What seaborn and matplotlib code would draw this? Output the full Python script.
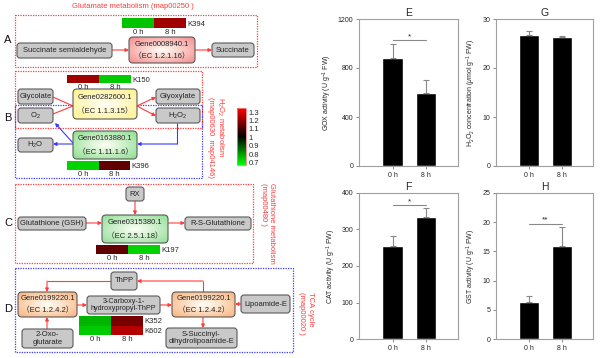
import numpy as np
import pandas as pd
import matplotlib
matplotlib.use("Agg")
import matplotlib.pyplot as plt
import seaborn as sns
from matplotlib.patches import FancyBboxPatch, Rectangle
from matplotlib.colors import LinearSegmentedColormap

sns.set_style("white")
plt.rcParams['font.family'] = ['Liberation Sans', 'Noto Sans CJK SC', 'DejaVu Sans']
plt.rcParams['mathtext.fontset'] = 'custom'
plt.rcParams['mathtext.rm'] = 'Liberation Sans'
plt.rcParams['mathtext.it'] = 'Liberation Sans:italic'

# enzyme activity data (0 h vs 8 h)
times = ['0 h', '8 h']
gox_mean = [882, 596]
gox_err = [114, 106]
h2o2_mean = [26.7, 26.3]
h2o2_err = [0.85, 0.2]
cat_mean = [255, 334]
cat_err = [27, 25]
gst_mean = [6.3, 15.9]
gst_err = [1.1, 3.3]

# relative expression heatmaps
k394 = [[0.75, 1.22]]
k150 = [[1.22, 0.74]]
k396 = [[0.73, 1.14]]
k197 = [[1.14, 0.73]]
k352_k602 = [[0.77, 1.17], [0.74, 1.25]]
cbar_ticks = [0.7, 0.8, 0.9, 1, 1.1, 1.2, 1.3]

W, H = 600, 358
fig = plt.figure(figsize=(6, 3.58), dpi=100)
ax = fig.add_axes([0, 0, 1, 1])
ax.axis('off')

RED = '#ff3b3b'
BLUE = '#3a3aff'
FS = 5.5


def px_axes(x0, y0, x1, y1):
    return fig.add_axes([x0 / W, 1 - y1 / H, (x1 - x0) / W, (y1 - y0) / H])


def gray_box(x0, y0, x1, y1, text, fs=FS):
    p = FancyBboxPatch((x0, y0), x1 - x0, y1 - y0,
                       boxstyle='round,pad=0,rounding_size=3',
                       fc='#c9c9c9', ec='#5a5a5a', lw=0.8, zorder=3)
    ax.add_patch(p)
    ax.text((x0 + x1) / 2, (y0 + y1) / 2, text, ha='center', va='center',
            fontsize=fs, color='#222222', zorder=4, linespacing=1.05)


def gene_box(x0, y0, x1, y1, name, ec_name, edge):
    p = FancyBboxPatch((x0, y0), x1 - x0, y1 - y0,
                       boxstyle='round,pad=0,rounding_size=4',
                       fc='none', ec='#5a5a5a', lw=0.8, zorder=4)
    ax.add_patch(p)
    X, Y = np.meshgrid(np.linspace(-1, 1, 80), np.linspace(-1, 1, 40))
    r = np.clip(np.sqrt(X ** 2 + Y ** 2) / 1.3, 0, 1)
    img = (1 - r)[..., None] * np.array([1.0, 1.0, 0.97]) + r[..., None] * np.array(edge)
    im = ax.imshow(img, extent=(x0, x1, y1, y0), aspect='auto',
                   interpolation='bilinear', zorder=3)
    im.set_clip_path(p)
    cy = (y0 + y1) / 2
    h = y1 - y0
    ax.text((x0 + x1) / 2, cy - h * 0.22, name, ha='center', va='center',
            fontsize=FS, color='#222222', zorder=5)
    ax.text((x0 + x1) / 2, cy + h * 0.26, '（' + ec_name + '）', ha='center',
            va='center', fontsize=FS, color='#222222', zorder=5)


def path_arrow(pts, color):
    pts = list(pts)
    if len(pts) > 2:
        xs, ys = zip(*pts[:-1])
        ax.plot(xs, ys, color=color, lw=0.8, zorder=2, solid_capstyle='butt')
    ax.annotate('', xy=pts[-1], xytext=pts[-2],
                arrowprops=dict(arrowstyle='-|>', color=color, lw=0.8,
                                mutation_scale=5, shrinkA=0, shrinkB=0),
                zorder=2)


def dotted_rect(x0, y0, x1, y1, color):
    ax.add_patch(Rectangle((x0, y0), x1 - x0, y1 - y0, fill=False, ec=color,
                           lw=0.9, ls=(0, (1, 1)), zorder=1))


cmap = LinearSegmentedColormap.from_list('gbr', ['#00ff00', '#000000', '#ff0000'])
VMIN, VMAX = 0.67, 1.35


def heat(vals, labels, x0, y0, x1, y1):
    hax = px_axes(x0, y0, x1, y1)
    df = pd.DataFrame(vals, index=labels, columns=times)
    sns.heatmap(df, ax=hax, cmap=cmap, vmin=VMIN, vmax=VMAX, cbar=False,
                xticklabels=True, yticklabels=True)
    hax.yaxis.tick_right()
    hax.tick_params(length=0, labelsize=FS, pad=1)
    hax.set_yticklabels(labels, rotation=0, fontsize=FS)
    hax.set_xticklabels(times, rotation=0, fontsize=FS)
    hax.set_xlabel('')
    hax.set_ylabel('')
    return hax


# ---- pathway panel ----
for lab, y in [('A', 40), ('B', 118), ('C', 223), ('D', 309)]:
    ax.text(8, y, lab, ha='center', va='center', fontsize=8, color='#111111')

# A: glutamate metabolism
ax.text(133, 7, 'Glutamate metabolism (map00250 )', ha='center', va='center',
        fontsize=FS, color=RED)
dotted_rect(15, 15, 257, 67, RED)
gray_box(17, 43, 112, 58, 'Succinate semialdehyde')
gene_box(129, 37, 195, 63, 'Gene0008940.1', 'EC 1.2.1.16', (0.96, 0.58, 0.58))
gray_box(212, 43, 254, 57, 'Succinate')
path_arrow([(112, 50), (129, 50)], RED)
path_arrow([(195, 50), (212, 50)], RED)
heat(k394, ['K394'], 122, 18, 186, 28)

# B: H2O2 metabolism
dotted_rect(15, 71, 202, 128, RED)
dotted_rect(15, 105, 202, 178, BLUE)
ax.text(216, 97, 'H$_2$O$_2$ metabolism\n(map00630  map04146)', rotation=-90,
        ha='center', va='top', multialignment='left', fontsize=FS,
        color=RED, linespacing=1.2)
gray_box(18, 89, 53, 104, 'Glycolate')
gray_box(18, 108, 53, 123, 'O$_2$')
gene_box(73, 89, 137, 119, 'Gene0282600.1', 'EC 1.1.3.15', (1.0, 0.95, 0.58))
gray_box(156, 89, 200, 104, 'Glyoxylate')
gray_box(156, 108, 200, 123, 'H$_2$O$_2$')
ax.plot([53, 73], [97, 106], color=RED, lw=0.8, zorder=2)
ax.plot([53, 73], [114, 106], color=RED, lw=0.8, zorder=2)
path_arrow([(137, 106), (156, 97)], RED)
path_arrow([(137, 106), (156, 116)], RED)
heat(k150, ['K150'], 67, 75, 131, 83)

gray_box(18, 138, 53, 152, 'H$_2$O')
gene_box(73, 131, 137, 159, 'Gene0163880.1', 'EC 1.11.1.6', (0.58, 0.88, 0.58))
path_arrow([(177, 123), (177, 144), (137, 144)], BLUE)
path_arrow([(73, 143), (55, 123)], BLUE)
path_arrow([(73, 144), (53, 144)], BLUE)
heat(k396, ['K396'], 67, 161, 130, 170)

# colour bar
cax = px_axes(237, 108, 246, 165)
sm = plt.cm.ScalarMappable(cmap=cmap, norm=plt.Normalize(VMIN, VMAX))
cb = fig.colorbar(sm, cax=cax, ticks=cbar_ticks)
cb.ax.set_yticklabels([f'{t:g}' for t in cbar_ticks])
cb.ax.tick_params(length=0, labelsize=FS, pad=2)
cb.outline.set_edgecolor('#ff8080')
cb.outline.set_linewidth(0.6)

# C: glutathione metabolism
dotted_rect(15, 184, 253, 263, RED)
ax.text(267, 183, 'Glutathione metabolism\n(map00480 )', rotation=-90,
        ha='center', va='top', multialignment='left', fontsize=FS,
        color=RED, linespacing=1.2)
gray_box(126, 187, 144, 201, 'RX')
gray_box(18, 217, 86, 230, 'Glutathione (GSH)')
gene_box(102, 215, 168, 243, 'Gene0315380.1', 'EC 2.5.1.18', (0.6, 0.88, 0.62))
gray_box(185, 217, 251, 230, 'R-S-Glutathione')
path_arrow([(135, 201), (135, 215)], RED)
path_arrow([(86, 223), (102, 223)], RED)
path_arrow([(168, 223), (185, 223)], RED)
heat(k197, ['K197'], 96, 245, 160, 254)

# D: TCA cycle
dotted_rect(15, 268, 293, 352, BLUE)
ax.text(306, 292, 'TCA cycle\n(map00020 )', rotation=-90, ha='center',
        va='top', multialignment='left', fontsize=FS, color=RED,
        linespacing=1.3)
gray_box(111, 272, 137, 290, 'ThPP')
gene_box(18, 292, 77, 317, 'Gene0199220.1', 'EC 1.2.4.2', (0.98, 0.72, 0.52))
gray_box(87, 296, 160, 314, '3-Carboxy-1-\nhydroxypropyl-ThPP', fs=5.2)
gene_box(172, 292, 235, 317, 'Gene0199220.1', 'EC 1.2.4.2', (0.98, 0.72, 0.52))
gray_box(241, 295, 290, 313, 'Lipoamide-E')
gray_box(22, 329, 73, 348, '2-Oxo-\nglutarate')
gray_box(166, 328, 237, 348, 'S-Succinyl-\ndihydrolipoamide-E')
path_arrow([(111, 281), (47, 281), (47, 292)], RED)
path_arrow([(203, 292), (203, 281), (137, 281)], RED)
path_arrow([(47, 329), (47, 317)], RED)
path_arrow([(77, 305), (87, 305)], RED)
path_arrow([(160, 305), (172, 305)], RED)
path_arrow([(241, 304), (235, 304)], RED)
path_arrow([(203, 317), (203, 328)], RED)
heat(k352_k602, ['K352', 'K602'], 79, 316, 143, 335)

ax.set_xlim(0, W)
ax.set_ylim(H, 0)

# ---- bar charts ----
panels = [
    ('E', gox_mean, gox_err, 'GOX activity (U g$^{-1}$ FW)', 1200, [0, 400, 800, 1200],
     (359, 19, 458, 166), (1029, 1050, '*')),
    ('G', h2o2_mean, h2o2_err, 'H$_2$O$_2$ concentration ($\\mu$mol g$^{-1}$ FW)', 30,
     [0, 10, 20, 30], (496, 19, 593, 166), None),
    ('F', cat_mean, cat_err, 'CAT activity (U g$^{-1}$ FW)', 400, [0, 100, 200, 300, 400],
     (359, 193, 458, 339), (367, 376, '*')),
    ('H', gst_mean, gst_err, 'GST activity (U g$^{-1}$ FW)', 25, [0, 5, 10, 15, 20, 25],
     (496, 193, 593, 339), (19.7, 20.4, '**')),
]

for title, mean, err, ylab, ymax, yt, box, sig in panels:
    bax = px_axes(*box)
    df = pd.DataFrame({'time': times, 'value': mean})
    sns.barplot(data=df, x='time', y='value', color='black', width=0.6,
                errorbar=None, ax=bax, saturation=1)
    bax.errorbar([0, 1], mean, yerr=[[0, 0], err], fmt='none', ecolor='#888888',
                 elinewidth=0.8, capsize=2, capthick=0.8)
    bax.set_xlim(-1.0, 1.95)
    bax.set_ylim(0, ymax)
    bax.set_yticks(yt)
    bax.set_xlabel('')
    bax.set_ylabel(ylab, fontsize=5, labelpad=3)
    bax.set_title(title, fontsize=7.5, pad=2)
    bax.tick_params(axis='both', labelsize=5, length=2, width=0.6,
                    color='#777777', pad=2, direction='out')
    bax.tick_params(left=True, bottom=True)
    for s in bax.spines.values():
        s.set_color('#a0a0a0')
        s.set_linewidth(0.8)
    if sig is not None:
        ly, sy, st = sig
        bax.plot([0, 1], [ly, ly], color='#888888', lw=0.8)
        bax.text(0.5, sy, st, ha='center', va='center', fontsize=6)

fig.savefig('out.png', dpi=100)
